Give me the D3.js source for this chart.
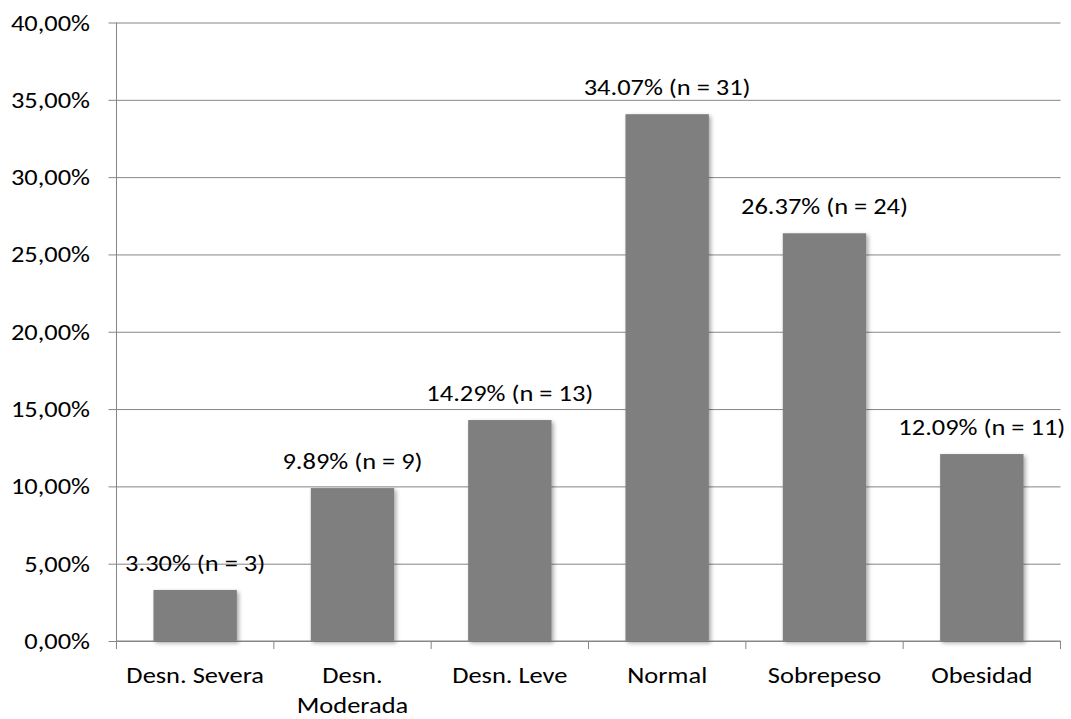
<!DOCTYPE html>
<html>
<head>
<meta charset="utf-8">
<script src="https://cdn.jsdelivr.net/npm/d3@7"></script>
<style>
  html, body { margin: 0; padding: 0; background: #fff; }
  svg { display: block; }
  text { font-family: Carlito, Calibri, "Open Sans", sans-serif; fill: #000; }
</style>
</head>
<body>
<svg id="chart" width="1071" height="719"></svg>
<script>
const categories = ["Desn. Severa", "Desn. Moderada", "Desn. Leve", "Normal", "Sobrepeso", "Obesidad"];
const percentages = [3.30, 9.89, 14.29, 34.07, 26.37, 12.09];
const counts = [3, 9, 13, 31, 24, 11];
const yTicks = [0, 5, 10, 15, 20, 25, 30, 35, 40];

(function () {
const svg = d3.select("#chart");
const mLeft = 116.5, mRight = 1060.5, mTop = 22.5, mBottom = 641;
const fontSize = 23;
const sx = 1.15;
const fontFam = "Carlito, Calibri, 'Open Sans', sans-serif";
const place = (px, py) => `translate(${px},${py}) scale(${sx},1)`;

const x = d3.scaleBand().domain(categories).range([mLeft, mRight]).paddingInner(0.47).paddingOuter(0.235);
const xb = d3.scaleBand().domain(categories).range([mLeft, mRight]);
const y = d3.scaleLinear().domain([0, 40]).range([mBottom, mTop]);

const defs = svg.append("defs");
const f = defs.append("filter").attr("id", "shadow").attr("x", "-20%").attr("y", "-20%").attr("width", "140%").attr("height", "140%");
f.append("feDropShadow").attr("dx", 2).attr("dy", 2).attr("stdDeviation", 2).attr("flood-color", "#000").attr("flood-opacity", 0.35);

// gridlines + y axis
const yAxis = d3.axisLeft(y).tickValues(yTicks).tickSize(-(mRight - mLeft)).tickPadding(0)
  .tickFormat(d => d3.format(".2f")(d).replace(".", ",") + "%");
const gy = svg.append("g").attr("transform", `translate(${mLeft},0)`).call(yAxis);
gy.attr("font-family", null).attr("font-size", null);
gy.select(".domain").remove();
gy.selectAll(".tick line").attr("stroke", "#868686").attr("stroke-width", 1).attr("x1", -8);
gy.selectAll(".tick text").attr("x", 0).attr("y", 0).attr("dy", null)
  .attr("transform", place(-26.5, 7.5))
  .attr("font-size", fontSize).attr("fill", "#000")
  .style("font-family", fontFam);

// y axis line
svg.append("line").attr("x1", mLeft).attr("x2", mLeft).attr("y1", mTop).attr("y2", mBottom)
  .attr("stroke", "#868686").attr("stroke-width", 1);

// bars
svg.append("g").selectAll("rect").data(categories).join("rect")
  .attr("x", d => x(d))
  .attr("width", x.bandwidth())
  .attr("y", (d, i) => y(percentages[i]))
  .attr("height", (d, i) => y(0) - y(percentages[i]))
  .attr("fill", "#7f7f7f")
  .attr("filter", "url(#shadow)");

// x axis
const xAxis = d3.axisBottom(xb).tickSize(0).tickFormat("");
const gx = svg.append("g").attr("transform", `translate(0,${mBottom})`).call(xAxis);
gx.select(".domain").attr("stroke", "#868686").attr("d", `M${mLeft},0H${mRight}`);
const bounds = categories.map(c => xb(c)).concat([mRight]);
gx.selectAll(".bound").data(bounds).join("line").attr("class", "bound")
  .attr("x1", d => d).attr("x2", d => d).attr("y1", 0).attr("y2", 8)
  .attr("stroke", "#868686");

// category labels
const lines = { "Desn. Moderada": ["Desn.", "Moderada"] };
const lab = svg.append("g").selectAll("text").data(categories).join("text")
  .attr("transform", d => place(xb(d) + xb.bandwidth() / 2, 682.5))
  .attr("text-anchor", "middle")
  .attr("font-size", fontSize);
lab.each(function(d) {
  const parts = lines[d] || [d];
  d3.select(this).selectAll("tspan").data(parts).join("tspan")
    .attr("x", 0)
    .attr("dy", (p, i) => i === 0 ? 0 : 30.5)
    .text(p => p);
});

// data labels
svg.append("g").selectAll("text").data(categories).join("text")
  .attr("transform", (d, i) => place(x(d) + x.bandwidth() / 2, y(percentages[i]) - 19))
  .attr("text-anchor", "middle")
  .attr("font-size", fontSize)
  .text((d, i) => `${percentages[i].toFixed(2)}% (n = ${counts[i]})`);
})();
</script>
</body>
</html>
